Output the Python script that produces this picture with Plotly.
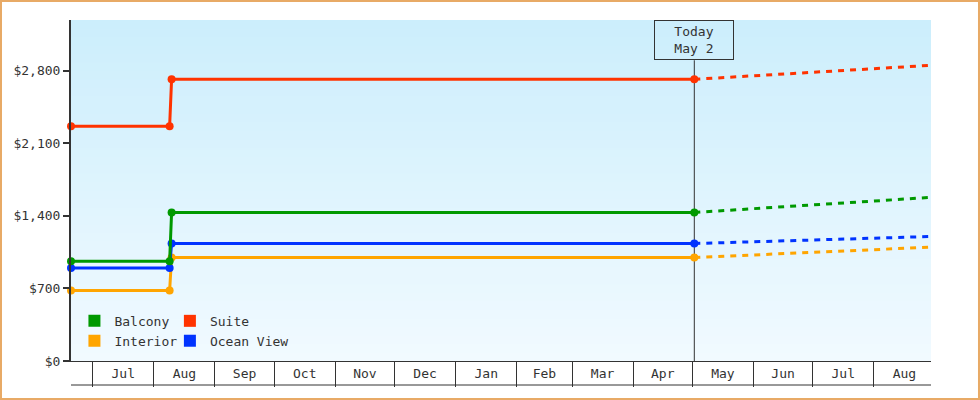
import plotly.graph_objects as go

# price history (solid) and forecast (dashed)
dates = ["2024-06-20", "2024-08-09", "2024-08-10", "2025-05-02"]
balcony = [963, 963, 1433, 1433]
suite = [2263, 2263, 2717, 2717]
interior = [680, 680, 998, 998]
ocean_view = [898, 898, 1133, 1133]

forecast_dates = ["2025-05-02", "2025-08-30"]
balcony_fc = [1433, 1578]
suite_fc = [2717, 2852]
interior_fc = [998, 1098]
ocean_view_fc = [1133, 1201]

today = "2025-05-02"
today_label = "Today<br>May 2"
x_range = ["2024-06-20", "2025-08-30"]
y_range = [0, 3289]

series = [
    ("Interior", interior, interior_fc, "#ffa500", "legend"),
    ("Ocean View", ocean_view, ocean_view_fc, "#0033ff", "legend2"),
    ("Suite", suite, suite_fc, "#ff3300", "legend2"),
    ("Balcony", balcony, balcony_fc, "#009900", "legend"),
]
legend_order = ["Balcony", "Interior", "Suite", "Ocean View"]

INK = "#333333"
FONT = dict(family="DejaVu Sans Mono", size=13, color=INK)

fig = go.Figure()

for name, hist, fc, color, leg in series:
    fig.add_trace(go.Scatter(
        x=forecast_dates, y=fc, mode="lines", showlegend=False,
        line=dict(color=color, width=3, dash="6px,6px"), cliponaxis=False))
    fig.add_trace(go.Scatter(
        x=dates, y=hist, mode="lines+markers", showlegend=False,
        line=dict(color=color, width=3), marker=dict(size=8, color=color),
        cliponaxis=False))

# legend swatches
colors = {s[0]: s[3] for s in series}
legends = {s[0]: s[4] for s in series}
for name in legend_order:
    fig.add_trace(go.Scatter(
        x=[None], y=[None], mode="markers", name=name, legend=legends[name],
        marker=dict(symbol="square", size=12, color=colors[name])))

# vertical gradient background
shapes = []
n = 40
top = (204, 238, 252)
bot = (241, 250, 255)
for i in range(n):
    t = i / (n - 1)
    c = tuple(round(bot[k] + (top[k] - bot[k]) * t) for k in range(3))
    shapes.append(dict(type="rect", xref="paper", yref="paper", layer="below",
                       x0=0, x1=1, y0=i / n, y1=min(1, (i + 1) / n + 0.004),
                       fillcolor="rgb(%d,%d,%d)" % c, line=dict(width=0)))
shapes.append(dict(type="line", xref="x", yref="paper", layer="below",
                   x0=today, x1=today, y0=0, y1=0.882,
                   line=dict(color=INK, width=1)))
shapes.append(dict(type="line", xref="paper", yref="paper",
                   x0=0, x1=1, y0=-0.0704, y1=-0.0704,
                   line=dict(color=INK, width=1)))
shapes.append(dict(type="rect", xref="paper", yref="paper",
                   x0=-0.0814, x1=1.0558, y0=-0.1114, y1=1.0557,
                   line=dict(color="#e8aa66", width=2)))

fig.update_layout(
    width=980, height=400,
    margin=dict(l=71, r=49, t=20, b=39),
    paper_bgcolor="white", plot_bgcolor="white",
    font=FONT,
    shapes=shapes,
    annotations=[dict(x=today, xref="x", y=1, yref="paper", yanchor="top",
                      text=today_label, showarrow=False, font=FONT,
                      bordercolor=INK, borderwidth=1, borderpad=2,
                      width=74, height=34)],
    legend=dict(x=0.004, y=0.015, xanchor="left", yanchor="bottom",
                bgcolor="rgba(0,0,0,0)", font=FONT, tracegroupgap=0),
    legend2=dict(x=0.115, y=0.015, xanchor="left", yanchor="bottom",
                 bgcolor="rgba(0,0,0,0)", font=FONT, tracegroupgap=0),
)

fig.update_xaxes(
    type="date", range=x_range, showgrid=False, zeroline=False,
    showline=True, linecolor=INK, linewidth=1,
    dtick="M1", tickformat="%b", ticklabelmode="period",
    ticks="outside", ticklen=25, tickcolor=INK, tickwidth=1,
    ticklabelstandoff=-25, tickfont=FONT)
fig.update_yaxes(
    range=y_range, showgrid=False, zeroline=False,
    showline=True, linecolor=INK, linewidth=2,
    ticks="outside", ticklen=6, tickwidth=2, tickcolor=INK,
    dtick=700, tickprefix="$", tickformat=",d", tickfont=FONT)

fig.write_html("out.html", config={"displayModeBar": False},
               post_script="document.body.style.margin='0';")
